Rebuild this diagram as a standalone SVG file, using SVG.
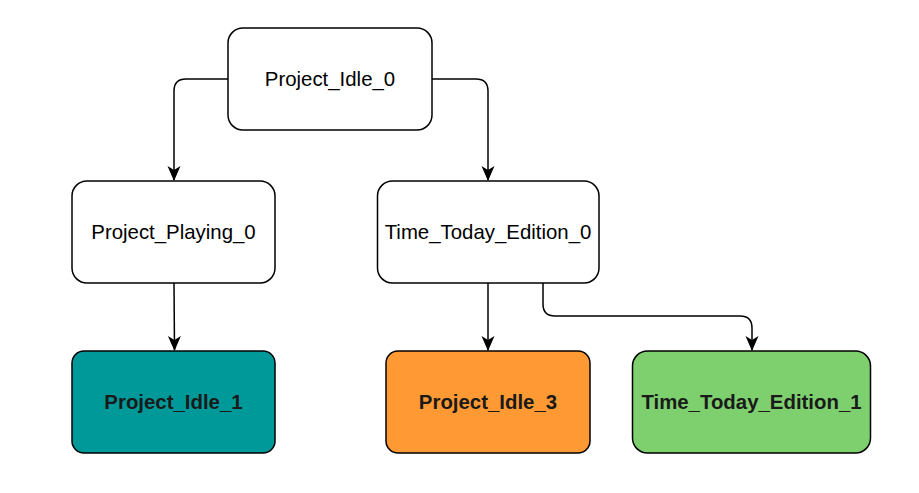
<svg xmlns="http://www.w3.org/2000/svg" width="919" height="493" viewBox="0 0 919 493">
<style>
.box{stroke:#000;stroke-width:1.5}
.t{font-family:"Liberation Sans",Arial,sans-serif;font-size:20.4px;text-anchor:middle;fill:#000}
.b{font-weight:bold;fill:#1a1a1a}
.e{fill:none;stroke:#000;stroke-width:1.5}
</style>
<defs>
<marker id="arr" markerWidth="16" markerHeight="16" viewBox="0 0 16 16" refX="14" refY="8" orient="auto" markerUnits="userSpaceOnUse">
<path d="M0,1.5 L15,8 L0,14.5 L4,8 Z" fill="#000"/>
</marker>
</defs>
<rect width="919" height="493" fill="#fff"/>
<g id="connectors">
<path class="e" d="M228,79 H186 Q174,79 174,91 V180" marker-end="url(#arr)"/>
<path class="e" d="M432,79 H476 Q488,79 488,91 V180" marker-end="url(#arr)"/>
<path class="e" d="M174,283 L174.5,350" marker-end="url(#arr)"/>
<path class="e" d="M488,283 V350" marker-end="url(#arr)"/>
<path class="e" d="M543,283 V304 Q543,316 555,316 H740 Q752,316 752,328 V350" marker-end="url(#arr)"/>
</g>
<g id="Project_Idle_0">
<rect class="box" x="228" y="28" width="204" height="102" rx="15" fill="#fff"/>
<text class="t" x="330" y="86">Project_Idle_0</text>
</g>
<g id="Project_Playing_0">
<rect class="box" x="72" y="181" width="203" height="102" rx="15" fill="#fff"/>
<text class="t" x="173.5" y="239">Project_Playing_0</text>
</g>
<g id="Time_Today_Edition_0">
<rect class="box" x="377.5" y="181" width="221.5" height="102" rx="15" fill="#fff"/>
<text class="t" x="488" y="239">Time_Today_Edition_0</text>
</g>
<g id="Project_Idle_1">
<rect class="box" x="72" y="351" width="203" height="102" rx="12" fill="#009999"/>
<text class="t b" x="173.5" y="409">Project_Idle_1</text>
</g>
<g id="Project_Idle_3">
<rect class="box" x="386" y="351" width="204" height="102" rx="12" fill="#FF9933"/>
<text class="t b" x="488" y="409">Project_Idle_3</text>
</g>
<g id="Time_Today_Edition_1">
<rect class="box" x="632.5" y="351" width="238" height="102" rx="15" fill="#7ED06F"/>
<text class="t b" x="751.5" y="409">Time_Today_Edition_1</text>
</g>
</svg>
